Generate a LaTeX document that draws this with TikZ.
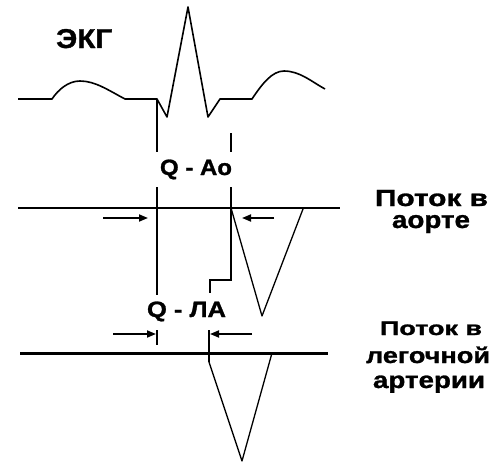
\documentclass[tikz,border=0pt]{standalone}
\usepackage{fontspec}
\setmainfont{Liberation Sans}[BoldFeatures={FakeBold=1.2}]
\usetikzlibrary{arrows.meta}
\newcommand\fitwh[3]{\resizebox{#1}{#2}{#3}}
\begin{document}
\begin{tikzpicture}[x=1pt,y=-1pt,
  lbl/.style={inner sep=0pt, anchor=base, font=\bfseries},
  wave/.style={line width=1.6pt, line join=round},
  vline/.style={line width=1.5pt},
  flow/.style={line width=1.3pt, line join=round},
  arr/.style={line width=1.7pt, -{Triangle[length=9pt,width=7pt]}},
  ]
\useasboundingbox (0,0) rectangle (498,463);

% ECG
\draw[wave] (18,99) -- (52,99) .. controls (58,90) and (68,81) .. (80,81)
  .. controls (95,81) and (108,90) .. (125,99) -- (157,99) -- (167,117)
  -- (188,7) -- (208,117) -- (220,99) -- (252,99)
  .. controls (262,84) and (272,71) .. (284,71)
  .. controls (300,71) and (312,82) .. (325,89);

% labels
\node[lbl, anchor=base west] (ekg) at (56,48) {\fitwh{56pt}{19pt}{ЭКГ}};
\node[lbl] (qao) at (196,175) {\fitwh{72pt}{15.5pt}{Q - Ao}};
\node[lbl] (qla) at (186.5,317) {\fitwh{79pt}{15.5pt}{Q - ЛА}};
\node[lbl] (ao1) at (431.5,206) {\fitwh{113pt}{16pt}{Поток в}};
\node[lbl] (ao2) at (431,228) {\fitwh{78pt}{13pt}{аорте}};
\node[lbl] (pa1) at (431,335) {\fitwh{102pt}{13.5pt}{Поток в}};
\node[lbl] (pa2) at (428,363) {\fitwh{124pt}{16.5pt}{легочной}};
\node[lbl] (pa3) at (429,388) {\fitwh{112pt}{12.5pt}{артерии}};

% coordinates
\coordinate (q0) at (157,99);
\coordinate (q1) at (157,152);
\coordinate (q2) at (157,187);
\coordinate (q3) at (157,295);
\coordinate (q4) at (157,330);
\coordinate (q5) at (157,345);
\coordinate (a0) at (231,133);
\coordinate (a1) at (231,152);
\coordinate (a2) at (231,187);
\coordinate (a3) at (231,280);
\coordinate (a4) at (210,280);
\coordinate (a5) at (210,293);
\coordinate (p0) at (209,330);
\coordinate (p1) at (209,362);

% vertical markers
\draw[vline] (q0) -- (q1);
\draw[vline] (q2) -- (q3);
\draw[vline] (q4) -- (q5);
\draw[vline] (a0) -- (a1);
\draw[vline] (a2) -- (a3) -- (a4) -- (a5);
\draw[vline] (p0) -- (p1);

% baselines
\coordinate (aoL) at (18,208);
\coordinate (aoR) at (340,208);
\coordinate (paL) at (20,353);
\coordinate (paR) at (328,353);
\draw[line width=1.4pt] (aoL) -- (aoR);
\draw[line width=3pt] (paL) -- (paR);

% flow curves
\coordinate (aoS) at (231,208);
\coordinate (aoB) at (262,316);
\coordinate (aoE) at (303,209);
\draw[flow] (aoS) -- (aoB) -- (aoE);
\coordinate (paB) at (242,461);
\coordinate (paE) at (272,353);
\draw[flow] (p1) -- (paB) -- (paE);

% arrows
\coordinate (r1s) at (103,218);
\coordinate (r1e) at (148,218);
\coordinate (l1s) at (274,218);
\coordinate (l1e) at (242,218);
\coordinate (r2s) at (113,334);
\coordinate (r2e) at (156,334);
\coordinate (l2s) at (252,334);
\coordinate (l2e) at (210,334);
\draw[arr] (r1s) -- (r1e);
\draw[arr] (l1s) -- (l1e);
\draw[arr] (r2s) -- (r2e);
\draw[arr] (l2s) -- (l2e);
\end{tikzpicture}
\end{document}
